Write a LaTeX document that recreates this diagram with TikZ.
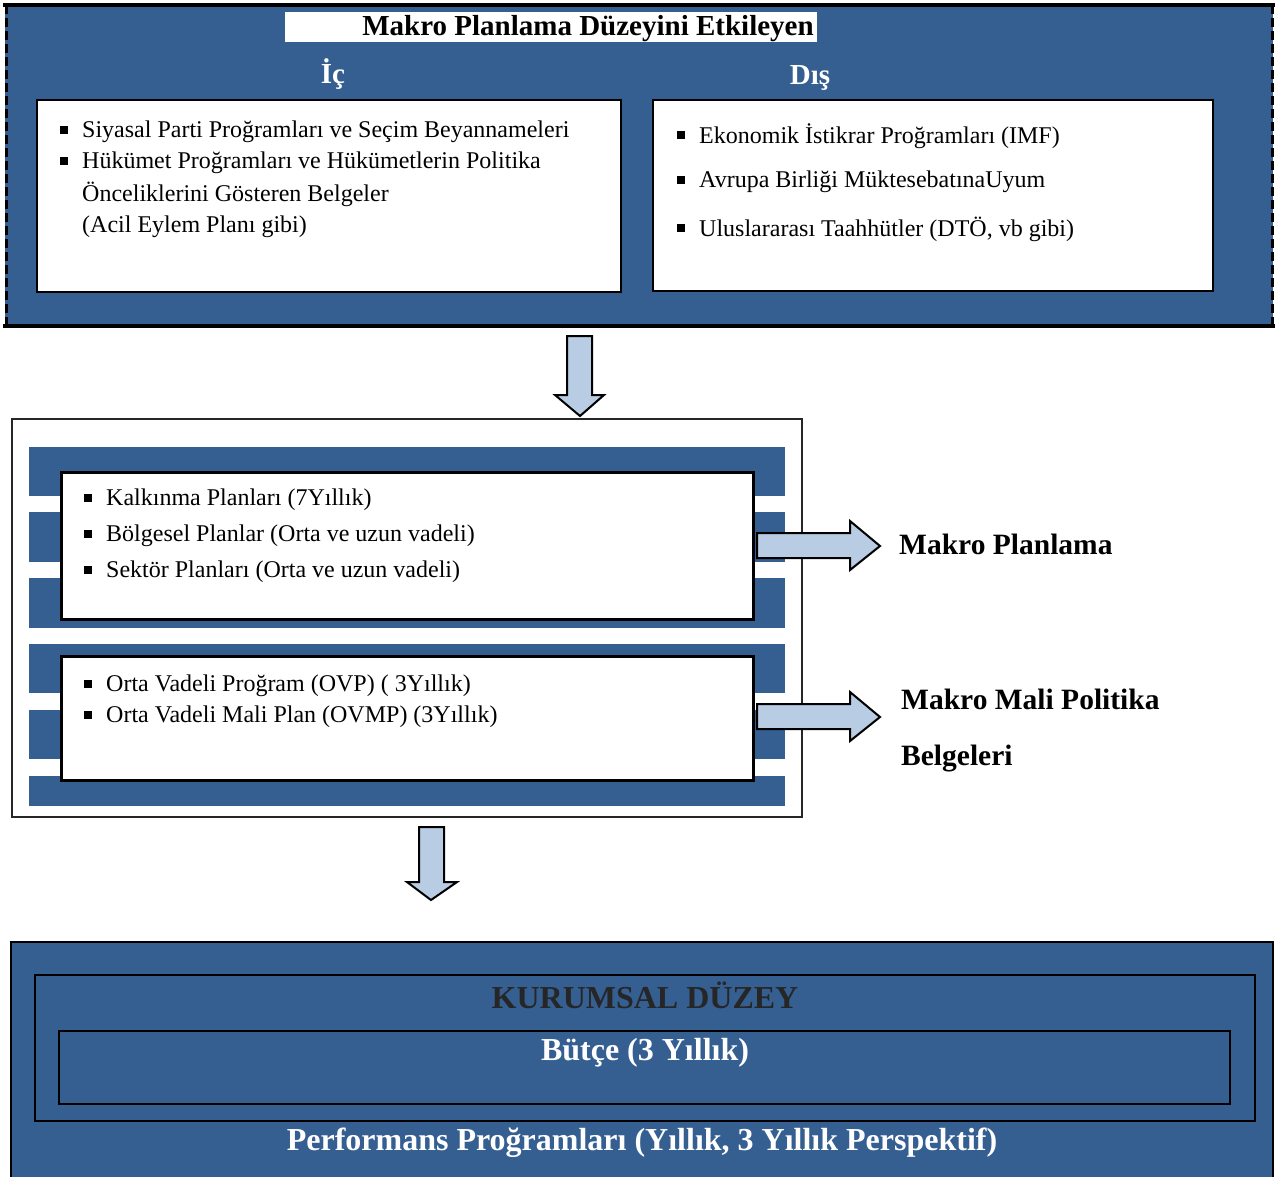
\documentclass[tikz,border=0pt]{standalone}
\usepackage{fontspec}
\setmainfont{Liberation Serif}
\definecolor{mblue}{RGB}{53,95,145}
\definecolor{lblue}{RGB}{184,204,228}
\begin{document}
\begin{tikzpicture}[x=1pt,y=-1pt,
  body/.style={anchor=west,inner sep=0pt,font=\fontsize{24}{28}\selectfont},
  bul/.style={fill=black,minimum size=7.5pt,inner sep=0pt},
  whitebox/.style={draw=black,line width=2pt,fill=white},
  blockarrow/.style={draw=black,line width=2pt,fill=lblue,line join=miter},
  stripe/.style={fill=mblue},
  heading/.style={inner sep=0pt,font=\bfseries\fontsize{29}{34}\selectfont},
  bighead/.style={inner sep=0pt,font=\bfseries\fontsize{32}{36}\selectfont}]
\useasboundingbox (0,0) rectangle (1282,1176);
% ---------- top block ----------
\fill[mblue] (5,5) rectangle (1273,327);
\draw[line width=4pt] (3,5) -- (1275,5);
\draw[line width=4pt] (3,326) -- (1275,326);
\draw[line width=3pt,dash pattern=on 9pt off 4pt] (6,5) -- (6,327);
\draw[line width=3pt,dash pattern=on 9pt off 4pt] (1272,5) -- (1272,327);
\node[fill=white,minimum width=532pt,minimum height=30pt,inner sep=0pt] (titlebox) at (551,27) {};
\node[heading] (title) at (588,29) {Makro Planlama Düzeyini Etkileyen};
\node[heading,text=white] (ic) at (333,74) {İç};
\node[heading,text=white] (dis) at (810,78) {Dış};
\draw[whitebox] (37,100) rectangle (621,292);
\draw[whitebox] (653,100) rectangle (1213,291);
\node[bul] (b1) at (64,130) {};
\node[body] (t1) at (82,132) {Siyasal Parti Proğramları ve Seçim Beyannameleri};
\node[bul] (b2) at (64,161) {};
\node[body] (t2) at (82,163) {Hükümet Proğramları ve Hükümetlerin Politika};
\node[body] (t3) at (82,194) {Önceliklerini Gösteren Belgeler};
\node[body] (t4) at (82,227) {(Acil Eylem Planı gibi)};
\node[bul] (b3) at (681,135) {};
\node[body] (t5) at (699,136) {Ekonomik İstikrar Proğramları (IMF)};
\node[bul] (b4) at (681,180) {};
\node[body] (t6) at (699,182) {Avrupa Birliği MüktesebatınaUyum};
\node[bul] (b5) at (681,228) {};
\node[body] (t7) at (699,229) {Uluslararası Taahhütler (DTÖ, vb gibi)};
% ---------- down arrow 1 ----------
\draw[blockarrow] (567,336) -- (592,336) -- (592,395) -- (604,395) -- (580,416) -- (555,395) -- (567,395) -- cycle;
% ---------- middle block ----------
\draw[line width=1.5pt,draw=black!85,fill=white] (12,419) rectangle (802,817);
\foreach \a/\b in {447/496,512/562,578/628,644/693,710/759,776/806}
  \fill[stripe] (29,\a) rectangle (785,\b);
\draw[whitebox,line width=3pt] (61,472) rectangle (753,619);
\draw[whitebox,line width=3pt] (61,656) rectangle (753,780);
\node[bul] (b6) at (88,498) {};
\node[body] (t8) at (106,500) {Kalkınma Planları (7Yıllık)};
\node[bul] (b7) at (88,534) {};
\node[body] (t9) at (106,536) {Bölgesel Planlar (Orta ve uzun vadeli)};
\node[bul] (b8) at (88,570) {};
\node[body] (t10) at (106,572) {Sektör Planları (Orta ve uzun vadeli)};
\node[bul] (b9) at (88,684) {};
\node[body] (t11) at (106,686) {Orta Vadeli Proğram (OVP) ( 3Yıllık)};
\node[bul] (b10) at (88,715) {};
\node[body] (t12) at (106,717) {Orta Vadeli Mali Plan (OVMP) (3Yıllık)};
% ---------- right arrows ----------
\draw[blockarrow] (757,533) -- (850,533) -- (850,521) -- (880,546) -- (850,570) -- (850,558) -- (757,558) -- cycle;
\draw[blockarrow] (757,704) -- (850,704) -- (850,692) -- (880,717) -- (850,741) -- (850,729) -- (757,729) -- cycle;
\node[heading,anchor=west,font=\bfseries\fontsize{29.5}{34}\selectfont] (mp) at (899,544) {Makro Planlama};
\node[heading,anchor=west,font=\bfseries\fontsize{29.5}{34}\selectfont] (mmp) at (901,699) {Makro Mali Politika};
\node[heading,anchor=west,font=\bfseries\fontsize{29.5}{34}\selectfont] (bel) at (901,759) {Belgeleri};
% ---------- down arrow 2 ----------
\draw[blockarrow] (419,827) -- (444,827) -- (444,882) -- (457,882) -- (431,900) -- (407,882) -- (419,882) -- cycle;
% ---------- bottom block ----------
\draw[line width=2.5pt,fill=mblue] (11,942) rectangle (1273,1180);
\draw[line width=2pt] (35,975) rectangle (1255,1121);
\draw[line width=2.5pt] (59,1031) rectangle (1230,1104);
\node[bighead,text=black!85] (kd) at (645,995) {KURUMSAL DÜZEY};
\node[bighead,text=white] (bt) at (645,1053) {Bütçe (3 Yıllık)};
\node[bighead,text=white] (pp) at (642,1143) {Performans Proğramları (Yıllık, 3 Yıllık Perspektif)};
\end{tikzpicture}
\end{document}
